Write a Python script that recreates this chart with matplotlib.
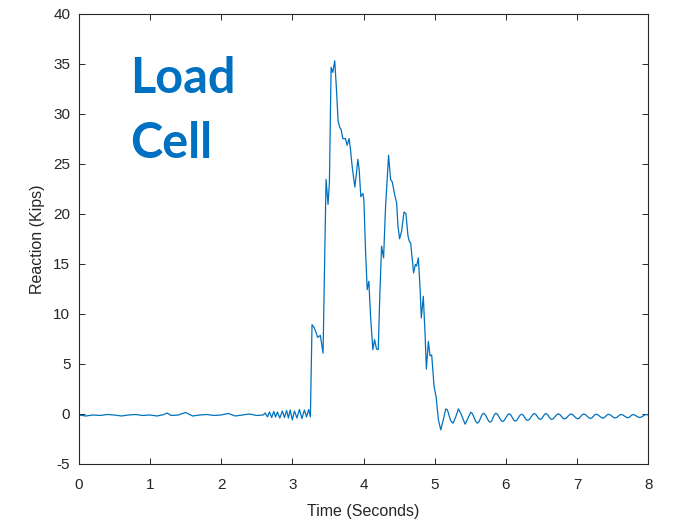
import matplotlib
matplotlib.use("Agg")
import matplotlib.pyplot as plt

# -------------------------
# data (seconds, kips)
# -------------------------
# quiet part before the impact, incl. the small ringing just before 3.25 s
time_quiet = [
    0.00, 0.10, 0.20, 0.30, 0.40, 0.50, 0.60, 0.70, 0.80, 0.90,
    1.00, 1.10, 1.20, 1.24, 1.30, 1.40, 1.50, 1.60, 1.70, 1.80,
    1.90, 2.00, 2.10, 2.20, 2.30, 2.40, 2.50,
    2.59, 2.62, 2.65, 2.68, 2.71, 2.74, 2.765, 2.79, 2.825, 2.86,
    2.89, 2.92, 2.945, 2.97, 3.00, 3.03, 3.065, 3.10, 3.135, 3.17,
    3.20, 3.23, 3.254,
]
reaction_quiet = [
    -0.10, -0.20, -0.10, -0.15, -0.05, -0.10, -0.20, -0.10, -0.05, -0.15,
    -0.10, -0.20, -0.05, 0.10, -0.15, -0.10, 0.15, -0.20, -0.10, -0.05,
    -0.15, -0.10, 0.05, -0.20, -0.10, 0.00, -0.15,
    -0.10, 0.10, -0.30, 0.20, -0.35, 0.25, -0.30, 0.20, -0.40, 0.30,
    -0.35, 0.35, -0.40, 0.40, -0.60, 0.30, -0.40, 0.45, -0.45, 0.40,
    -0.30, 0.45, -0.30,
]

# the load pulse
time_pulse = [
    3.277, 3.31, 3.357, 3.394, 3.432, 3.474, 3.502, 3.521, 3.545, 3.568,
    3.596, 3.620, 3.643, 3.667, 3.685, 3.709, 3.746, 3.770, 3.798, 3.817,
    3.840, 3.878, 3.897, 3.920, 3.939, 3.962, 3.991, 4.005, 4.028, 4.052,
    4.075, 4.099, 4.131, 4.155, 4.183, 4.207, 4.230, 4.254, 4.282, 4.310,
    4.352, 4.380, 4.404, 4.437, 4.465, 4.484, 4.507, 4.535, 4.568, 4.596,
    4.625, 4.643, 4.662, 4.686, 4.704, 4.728, 4.746, 4.770, 4.793, 4.812,
    4.840, 4.864, 4.883, 4.911, 4.934, 4.958, 4.991, 5.019, 5.052, 5.085,
    5.120, 5.155, 5.178, 5.225, 5.258, 5.295, 5.333, 5.366, 5.427,
]
reaction_pulse = [
    8.93, 8.60, 7.66, 7.86, 6.09, 23.46, 20.96, 23.13, 34.66, 34.16,
    35.32, 32.48, 29.31, 28.64, 28.47, 27.54, 27.54, 26.87, 27.54, 26.47,
    24.80, 22.70, 23.80, 25.47, 24.47, 21.73, 22.06, 21.46, 16.45, 12.44,
    13.27, 9.77, 6.43, 7.43, 6.50, 6.43, 12.10, 16.78, 15.61, 20.79,
    25.87, 23.46, 23.20, 21.96, 21.13, 18.79, 17.52, 18.28, 20.19, 20.05,
    17.79, 17.28, 17.10, 15.45, 14.11, 14.95, 14.80, 15.61, 12.77, 9.60,
    11.77, 8.10, 4.49, 7.26, 5.82, 5.90, 2.75, 1.75, -0.59, -1.59,
    -0.60, 0.51, 0.41, -0.69, -0.92, -0.30, 0.51, 0.07, -1.02,
]

# free vibration after the pulse
time_tail = [
    5.507, 5.530, 5.578, 5.601, 5.622, 5.665, 5.686, 5.709, 5.756, 5.779,
    5.799, 5.839, 5.859, 5.883, 5.930, 5.953, 5.977, 6.024, 6.047, 6.068,
    6.111, 6.132, 6.154, 6.199, 6.221, 6.242, 6.284, 6.305, 6.329, 6.376,
    6.399, 6.420, 6.462, 6.483, 6.503, 6.543, 6.563, 6.583, 6.623, 6.643,
    6.667, 6.714, 6.737, 6.758, 6.801, 6.822, 6.845, 6.892, 6.915, 6.939,
    6.986, 7.010, 7.031, 7.073, 7.094, 7.118, 7.165, 7.188, 7.208, 7.248,
    7.268, 7.292, 7.339, 7.362, 7.382, 7.421, 7.441, 7.465, 7.512, 7.535,
    7.556, 7.599, 7.620, 7.644, 7.691, 7.714, 7.732, 7.767, 7.784, 7.808,
    7.855, 7.878, 7.902, 7.949, 7.972, 8.000,
]
reaction_tail = [
    0.18, 0.02, -0.76, -0.92, -0.77, -0.07, 0.08, -0.06, -0.69, -0.82,
    -0.69, -0.06, 0.08, -0.04, -0.63, -0.75, -0.63, -0.10, 0.02, -0.09,
    -0.61, -0.72, -0.62, -0.12, -0.02, -0.11, -0.56, -0.65, -0.55, -0.06,
    0.05, -0.04, -0.46, -0.55, -0.46, -0.04, 0.05, -0.04, -0.46, -0.55,
    -0.46, -0.07, 0.02, -0.06, -0.42, -0.50, -0.42, -0.08, 0.00, -0.07,
    -0.41, -0.48, -0.41, -0.07, 0.00, -0.07, -0.38, -0.45, -0.39, -0.08,
    -0.02, -0.08, -0.36, -0.42, -0.36, -0.09, -0.03, -0.09, -0.34, -0.40,
    -0.35, -0.10, -0.05, -0.10, -0.33, -0.38, -0.33, -0.11, -0.06, -0.10,
    -0.31, -0.35, -0.31, -0.10, -0.05, -0.10,
]

x_ticks = [0, 1, 2, 3, 4, 5, 6, 7, 8]
y_ticks = [-5, 0, 5, 10, 15, 20, 25, 30, 35, 40]

time_s = time_quiet + time_pulse + time_tail
reaction_kips = reaction_quiet + reaction_pulse + reaction_tail

# -------------------------
# figure
# -------------------------
plt.rcParams['font.family'] = ['Liberation Sans', 'DejaVu Sans']
plt.rcParams['axes.unicode_minus'] = False
dark = "#262626"

fig = plt.figure(figsize=(6.79, 5.26), dpi=100)
ax = fig.add_axes([0.1159, 0.1179, 0.8389, 0.8555])

ax.plot(time_s, reaction_kips, color="#0072BD", lw=0.9)

ax.set_xlim(0, 8)
ax.set_ylim(-5, 40)
ax.set_xticks(x_ticks)
ax.set_yticks(y_ticks)
ax.tick_params(direction="in", length=4, width=0.7, colors=dark,
               labelsize=11, top=True, right=True)
ax.tick_params(axis="x", pad=10)
ax.tick_params(axis="y", pad=6)
for sp in ax.spines.values():
    sp.set_color(dark)
    sp.set_linewidth(0.8)

ax.set_xlabel("Time (Seconds)", fontsize=11.5, color=dark, labelpad=9)
ax.set_ylabel("Reaction (Kips)", fontsize=11.5, color=dark, labelpad=6)

# big label in the corner
ax.text(0.09, 0.824, "Load", transform=ax.transAxes, family="Lato",
        fontweight="bold", fontsize=35, color="#0070C0", va="baseline")
ax.text(0.09, 0.68, "Cell", transform=ax.transAxes, family="Lato",
        fontweight="bold", fontsize=35, color="#0070C0", va="baseline")

fig.savefig("out.png", dpi=100)
